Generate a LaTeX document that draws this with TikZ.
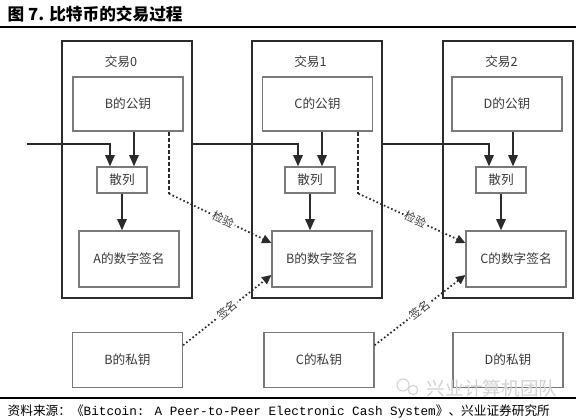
\documentclass[tikz,border=0pt]{standalone}
\usepackage{fontspec}
\setmainfont{Noto Sans CJK SC}
\newfontfamily\latinmono{Liberation Mono}
\usetikzlibrary{
  arrows.meta,
  positioning,
  calc
}
\definecolor{txLine}{HTML}{2B2B2B}
\definecolor{txKey}{HTML}{7A7A7A}
\definecolor{txText}{HTML}{3A3A3A}
\definecolor{txMark}{HTML}{D2D2D2}
\tikzset{
  txbox/.style={
    draw=txLine, line width=1.5pt, minimum width=97.5pt, minimum height=192.75pt
  },
  keybox/.style={
    draw=txKey, line width=0.9pt, minimum width=82.5pt, minimum height=40.5pt,
    font=\fontsize{9.5}{11}\selectfont, text=txText, inner sep=0pt
  },
  hashbox/.style={keybox, minimum width=37.5pt, minimum height=19.5pt},
  sigbox/.style={keybox, minimum width=75pt, minimum height=42pt},
  privbox/.style={keybox, minimum height=41.25pt},
  txname/.style={font=\fontsize{9.5}{11}\selectfont, text=txText},
  flow/.style={-{Triangle[length=8.5pt, width=7pt]}, line width=1.6pt, draw=txLine},
  verify/.style={line width=1.5pt, draw=txLine, dash pattern=on 3pt off 1.5pt},
  check/.style={-{Triangle[length=7pt, width=6.5pt]}, line width=1.3pt, draw=txLine,
    dash pattern=on 1.2pt off 1.8pt},
  tag/.style={font=\fontsize{8.5}{9}\selectfont, text=txText, fill=white, inner sep=1pt, sloped},
  rule/.style={line width=1.1pt, black}
}
\begin{document}
\begin{tikzpicture}[x=0.75pt, y=-0.75pt]
  \useasboundingbox[fill=white] (0,0) rectangle (576,419);
  % title and rules
  \node[anchor=west, font=\bfseries\fontsize{12.5}{13}\selectfont] (title) at (3,14) {图 7. 比特币的交易过程};
  \draw[rule] (0,27) -- (576,27);
  \draw[rule] (0,398) -- (576,398);
  \node[anchor=west, font=\fontsize{9.5}{10}\selectfont] (source) at (3,411)
    {资料来源：《{\latinmono Bitcoin: A Peer-to-Peer Electronic Cash System}》、兴业证券研究所};
  % three transactions
  \foreach \i/\tx/\pk/\hx/\sx/\kx/\owner/\signer in {
    0/127/128/122/129/127.5/B/A,
    1/316.5/317.5/310/322/319/C/B,
    2/507.5/507/501/516/508/D/C}{
    \node[txbox] (tx\i) at (\tx,169.5) {};
    \node[txname] (name\i) at (\tx-6,62) {交易\i};
    \node[keybox] (pub\i) at (\pk,104) {\owner 的公钥};
    \node[hashbox] (hash\i) at (\hx,180) {散列};
    \node[sigbox] (sig\i) at (\sx,259) {\signer 的数字签名};
    \node[privbox] (priv\i) at (\kx,360) {\owner 的私钥};
    \coordinate (hp\i) at ([xshift=9pt]hash\i.north);
    \coordinate (hi\i) at ([xshift=-9pt]hash\i.north);
    \draw[flow] (hp\i |- pub\i.south) -- (hp\i);
    \draw[flow] (hash\i.south) -- (hash\i.south |- sig\i.north);
  }
  % chain of previous transactions
  \coordinate (inflow) at (27,144);
  \draw[flow] (inflow) -| (hi0);
  \draw[flow] (tx0.east |- inflow) -| (hi1);
  \draw[flow] (tx1.east |- inflow) -| (hi2);
  % verify and sign
  \foreach \i/\j in {0/1, 1/2}{
    \coordinate (vk\i) at ([xshift=-11pt]pub\i.south east);
    \draw[verify] (vk\i) -- (vk\i |- hash\i.south) coordinate (vb\i);
    \draw[check] (vb\i) -- node[tag, pos=0.53] {检验} ([yshift=12pt]sig\j.west);
    \draw[check] ([yshift=-10pt]priv\i.north east) -- node[tag, pos=0.5] {签名} ([yshift=-12pt]sig\j.west);
  }
  % watermark
  \node[text=txMark, font=\fontsize{14}{14}\selectfont] (mark) at (492,388) {兴业计算机团队};
  \node[draw=txMark, circle, line width=0.8pt, minimum size=9pt, inner sep=0pt] (markA) at (403,385) {};
  \node[draw=txMark, circle, line width=0.8pt, minimum size=7pt, inner sep=0pt, fill=white] (markB) at (413,390) {};
\end{tikzpicture}
\end{document}
